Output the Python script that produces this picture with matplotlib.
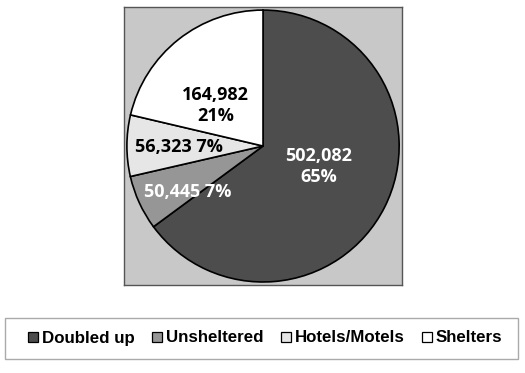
import matplotlib.pyplot as plt
from matplotlib.patches import Rectangle
from matplotlib.lines import Line2D

categories = ["Doubled up", "Unsheltered", "Hotels/Motels", "Shelters"]
counts = [502082, 50445, 56323, 164982]
pct_labels = ["65%", "7%", "7%", "21%"]
colors = ["#4d4d4d", "#969696", "#e6e6e6", "#ffffff"]
label_colors = ["white", "white", "black", "black"]
# label placement inside the unit pie (position, line layout)
label_pos = [(0.41, -0.15), (-0.55, -0.34), (-0.62, -0.01), (-0.35, 0.30)]
two_line = [True, False, False, True]

fig = plt.figure(figsize=(5.25, 3.73), dpi=100)
ax = fig.add_axes([0.236, 0.236, 0.530, 0.745])

wedges, _ = ax.pie(counts, colors=colors, startangle=90, counterclock=False,
                   wedgeprops=dict(edgecolor="black", linewidth=1.2))
ax.set_frame_on(True)
ax.patch.set_visible(True)
ax.set_facecolor("#c8c8c8")
for s in ax.spines.values():
    s.set_visible(True)
    s.set_edgecolor("#555555")
    s.set_linewidth(1)
ax.set_xlim(-1.022, 1.022)
ax.set_ylim(-1.022, 1.022)
ax.set_aspect("auto")
ax.set_xticks([])
ax.set_yticks([])

for n, p, pos, tl, c in zip(counts, pct_labels, label_pos, two_line, label_colors):
    sep = "\n" if tl else " "
    ax.text(pos[0], pos[1], f"{n:,}{sep}{p}", ha="center", va="center",
            color=c, fontsize=13, fontweight="bold", family="Open Sans",
            linespacing=1.2)

# legend box
fig.patches.append(Rectangle((5 / 525, 1 - 359 / 373), 513 / 525, 41 / 373,
                             transform=fig.transFigure, facecolor="white",
                             edgecolor="#aaaaaa", linewidth=1))
handles = [Line2D([], [], marker="s", linestyle="none", markersize=7.5,
                  markerfacecolor=c, markeredgecolor="black", markeredgewidth=0.9)
           for c in colors]
fig.legend(handles, categories, loc="center", bbox_to_anchor=(0.505, 1 - 338 / 373),
           ncol=4, frameon=False, handlelength=0.6, handletextpad=0.2,
           columnspacing=1.05, prop=dict(family="Liberation Sans", weight="bold", size=12.2))

fig.savefig("out.png", dpi=100)
